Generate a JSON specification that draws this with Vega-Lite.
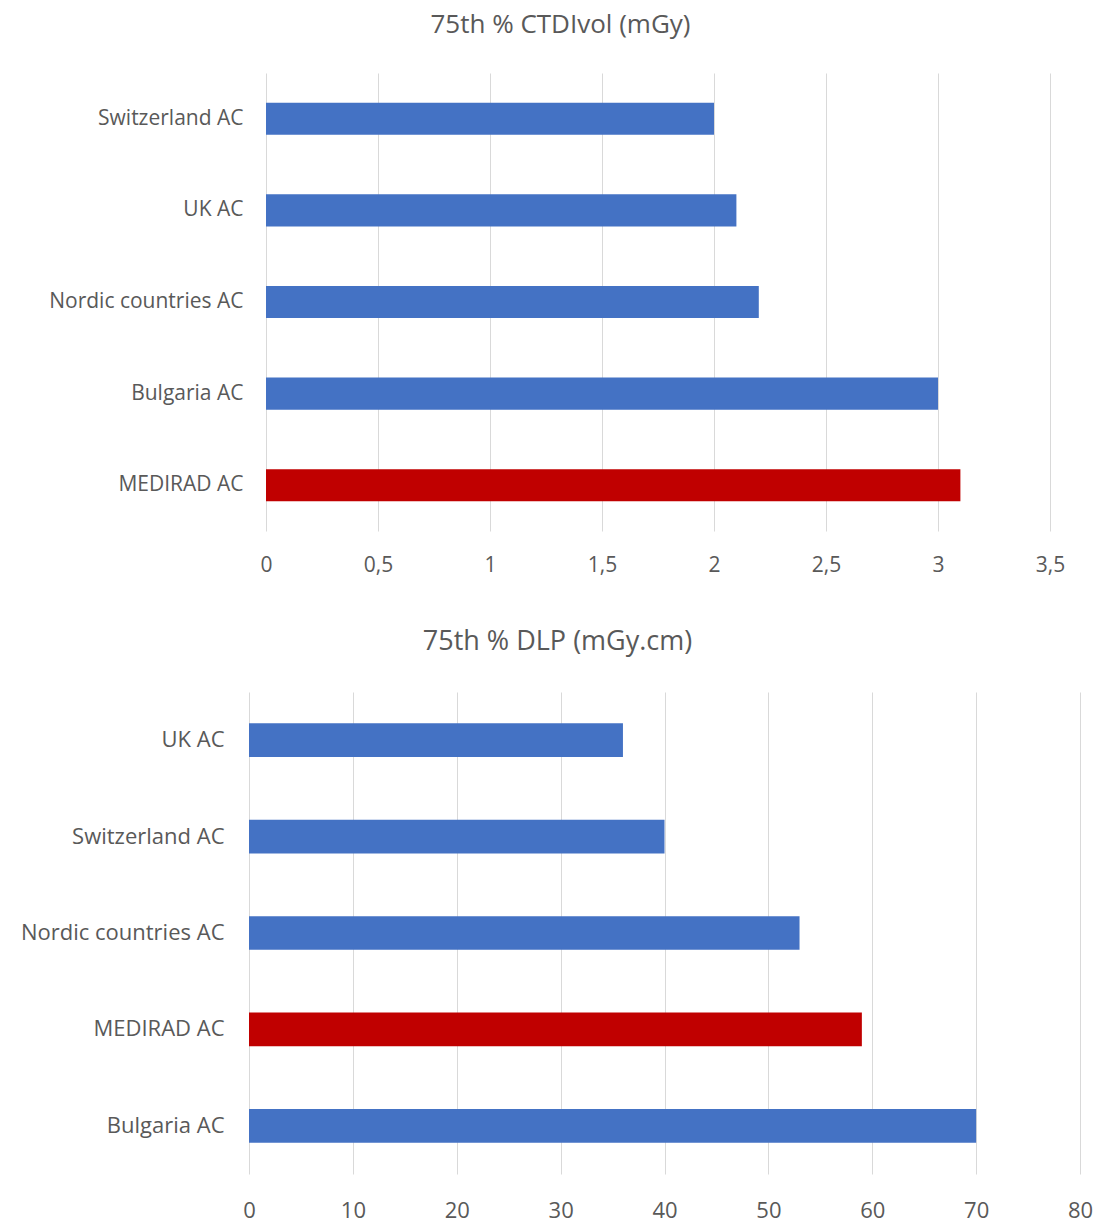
{
  "$schema": "https://vega.github.io/schema/vega-lite/v6.json",
  "padding": {"top": 12, "left": 0, "right": 0, "bottom": 0},
  "background": "white",
  "spacing": 53,
  "config": {
    "font": "Open Sans",
    "view": {"stroke": null},
    "axis": {"labelColor": "#595959", "gridColor": "#D9D9D9", "gridWidth": 1, "domain": false, "ticks": false, "labelLimit": 400},
    "title": {"color": "#595959", "fontWeight": "normal"}
  },
  "datasets": {
    "ctdi": [
      {"country": "Switzerland AC", "value": 2.0},
      {"country": "UK AC", "value": 2.1},
      {"country": "Nordic countries AC", "value": 2.2},
      {"country": "Bulgaria AC", "value": 3.0},
      {"country": "MEDIRAD AC", "value": 3.1}
    ],
    "dlp": [
      {"country": "UK AC", "value": 36},
      {"country": "Switzerland AC", "value": 40},
      {"country": "Nordic countries AC", "value": 53},
      {"country": "MEDIRAD AC", "value": 59},
      {"country": "Bulgaria AC", "value": 70}
    ]
  },
  "vconcat": [
    {
      "data": {"name": "ctdi"},
      "title": {"text": "75th % CTDIvol (mGy)", "fontSize": 26, "offset": 35, "frame": "group", "anchor": "middle", "dx": -89},
      "width": 801,
      "height": 458,
      "mark": {"type": "bar"},
      "encoding": {
        "y": {
          "field": "country", "type": "nominal",
          "sort": ["Switzerland AC", "UK AC", "Nordic countries AC", "Bulgaria AC", "MEDIRAD AC"],
          "scale": {"paddingInner": 0.65, "paddingOuter": 0.325},
          "axis": {"title": null, "labelFontSize": 21, "labelPadding": 6, "grid": false}
        },
        "x": {
          "field": "value", "type": "quantitative",
          "scale": {"domain": [0, 3.5], "nice": false, "range": [17, 801]},
          "axis": {"title": null, "values": [0, 0.5, 1, 1.5, 2, 2.5, 3, 3.5], "labelExpr": "replace(toString(datum.value), '.', ',')", "labelFontSize": 21, "labelPadding": 23, "labelFlush": false, "grid": true}
        },
        "color": {"condition": {"test": "datum.country === 'MEDIRAD AC'", "value": "#C00000"}, "value": "#4472C4"}
      }
    },
    {
      "data": {"name": "dlp"},
      "title": {"text": "75th % DLP (mGy.cm)", "fontSize": 27, "offset": 36, "frame": "group", "anchor": "middle", "dx": -107},
      "width": 831,
      "height": 482,
      "mark": {"type": "bar"},
      "encoding": {
        "y": {
          "field": "country", "type": "nominal",
          "sort": ["UK AC", "Switzerland AC", "Nordic countries AC", "MEDIRAD AC", "Bulgaria AC"],
          "scale": {"paddingInner": 0.65, "paddingOuter": 0.325},
          "axis": {"title": null, "labelFontSize": 22, "labelPadding": 25, "minExtent": 249, "maxExtent": 249, "grid": false}
        },
        "x": {
          "field": "value", "type": "quantitative",
          "scale": {"domain": [0, 80], "nice": false},
          "axis": {"title": null, "values": [0, 10, 20, 30, 40, 50, 60, 70, 80], "labelFontSize": 22, "labelPadding": 26, "labelFlush": false, "grid": true}
        },
        "color": {"condition": {"test": "datum.country === 'MEDIRAD AC'", "value": "#C00000"}, "value": "#4472C4"}
      }
    }
  ]
}
